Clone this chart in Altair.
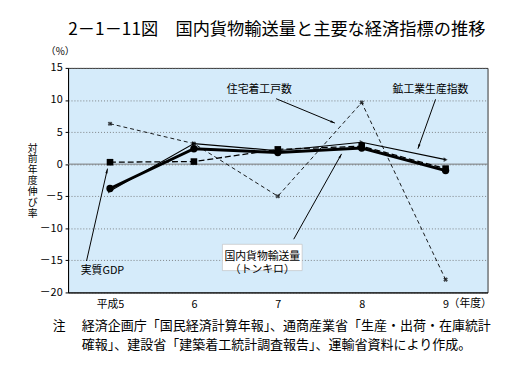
import math
import altair as alt
import pandas as pd

years = [5, 6, 7, 8, 9]
gdp = [0.3, 0.4, 2.3, 2.8, -0.7]
freight = [-3.8, 2.4, 1.8, 2.5, -1.0]
mining = [-4.2, 3.2, 2.1, 3.4, 0.7]
housing = [6.3, 3.2, -5.0, 9.6, -18.0]

y_ticks = [15, 10, 5, 0, -5, -10, -15, -20]

title_text = "2－1－11図　国内貨物輸送量と主要な経済指標の推移"
note_line1 = "経済企画庁「国民経済計算年報」、通商産業省「生産・出荷・在庫統計"
note_line2 = "確報」、建設省「建築着工統計調査報告」、運輸省資料により作成。"

# annotation labels (data coordinates)
lab_text = ["住宅着工戸数", "鉱工業生産指数", "実質GDP"]
lab_x = [6.78, 8.82, 4.91]
lab_y = [11.6, 11.6, -16.6]

# arrows (data coordinates)
arr_x1 = [6.98, 8.88, 7.19, 4.72]
arr_y1 = [10.2, 10.1, -11.7, -15.1]
arr_x2 = [7.68, 8.67, 7.76, 4.97]
arr_y2 = [6.4, 2.4, 1.6, -0.7]

W, H = 426, 228
XPX = W / 5.0
YPX = H / 35.0

FONT = "Noto Sans CJK JP"

xs = alt.Scale(domain=[4.5, 9.5], nice=False, zero=False)
ys = alt.Scale(domain=[-20, 15], nice=False, zero=False)

XAX = alt.Axis(values=years, grid=False, ticks=False, domain=True,
               domainColor="black", labelFont=FONT, labelFontSize=11,
               labelColor="black", labelPadding=6, title=None,
               labelOverlap=False, labelFlush=False,
               labelExpr="datum.value == 5 ? '平成5' : toString(datum.value)")
YAX = alt.Axis(values=y_ticks, tickCount=8, grid=True, gridColor="#666", gridDash=[1, 2],
               gridWidth=0.8, ticks=True, tickSize=3, tickColor="black",
               domain=True, domainColor="black", labelFont=FONT,
               labelFontSize=11, labelColor="black", labelPadding=3,
               labelOverlap=False, labelFlush=False, labelBound=False,
               title=None,
               labelExpr="datum.value < 0 ? '－' + toString(-datum.value) : toString(datum.value)")


def series_df(vals):
    return pd.DataFrame({"year": years, "value": vals})


def PX(f):
    return alt.X(f, scale=xs, axis=XAX)


def PY(f):
    return alt.Y(f, scale=ys, axis=YAX)


base_axes = alt.Chart(series_df(freight)).mark_point(opacity=0).encode(
    x=PX("year:Q"), y=PY("value:Q"))

zero = alt.Chart(pd.DataFrame({"value": [0]})).mark_rule(color="#777", strokeWidth=1).encode(
    y=PY("value:Q"))

housing_line = alt.Chart(series_df(housing)).mark_line(
    color="black", strokeWidth=0.9, strokeDash=[4, 3]).encode(x=PX("year:Q"), y=PY("value:Q"))
housing_pts = alt.Chart(series_df(housing)).mark_point(
    shape="cross", angle=45, size=22, filled=True, color="black").encode(x=PX("year:Q"), y=PY("value:Q"))

mining_line = alt.Chart(series_df(mining)).mark_line(
    color="black", strokeWidth=1.1).encode(x=PX("year:Q"), y=PY("value:Q"))
mining_pts = alt.Chart(series_df(mining)).mark_point(
    shape="triangle-right", size=22, filled=True, color="black").encode(x=PX("year:Q"), y=PY("value:Q"))

gdp_line = alt.Chart(series_df(gdp)).mark_line(
    color="black", strokeWidth=1.3, strokeDash=[6, 3]).encode(x=PX("year:Q"), y=PY("value:Q"))
gdp_pts = alt.Chart(series_df(gdp)).mark_point(
    shape="square", size=45, filled=True, color="black", opacity=1).encode(x=PX("year:Q"), y=PY("value:Q"))

freight_line = alt.Chart(series_df(freight)).mark_line(
    color="black", strokeWidth=3).encode(x=PX("year:Q"), y=PY("value:Q"))
freight_pts = alt.Chart(series_df(freight)).mark_point(
    shape="circle", size=55, filled=True, color="black", opacity=1).encode(x=PX("year:Q"), y=PY("value:Q"))

# arrows
angles = []
for a, b, c, d in zip(arr_x1, arr_y1, arr_x2, arr_y2):
    dxp = (c - a) * XPX
    dyp = -(d - b) * YPX
    angles.append(math.degrees(math.atan2(dxp, -dyp)) % 360)

arr_df = pd.DataFrame({"x1": arr_x1, "y1": arr_y1, "x2": arr_x2, "y2": arr_y2, "ang": angles})
arrows = alt.Chart(arr_df).mark_rule(color="black", strokeWidth=1).encode(
    x=PX("x1:Q"), y=PY("y1:Q"), x2="x2:Q", y2="y2:Q")
heads = alt.Chart(arr_df).mark_point(
    shape="M0,0L-0.35,1.5L0.35,1.5Z", size=40, filled=True, color="black", opacity=1).encode(
    x=PX("x2:Q"), y=PY("y2:Q"), angle=alt.Angle("ang:Q", scale=None))

labels = alt.Chart(pd.DataFrame({"t": lab_text, "x": lab_x, "y": lab_y})).mark_text(
    font=FONT, fontSize=11, color="black", baseline="middle").encode(
    x=PX("x:Q"), y=PY("y:Q"), text="t:N")

box = alt.Chart(pd.DataFrame({"x": [6.34], "x2": [7.29], "y": [-12.5], "y2": [-16.6]})).mark_rect(
    fill="white", stroke="#bbb", strokeWidth=0.6).encode(
    x=PX("x:Q"), x2="x2:Q", y=PY("y:Q"), y2="y2:Q")
box_text = alt.Chart(pd.DataFrame({"t": [["国内貨物輸送量", "（トンキロ）"]], "x": [6.815], "y": [-14.55]})).mark_text(
    font=FONT, fontSize=11, color="black", baseline="middle", lineHeight=13).encode(
    x=PX("x:Q"), y=PY("y:Q"), text="t")

nendo = alt.Chart(pd.DataFrame({"x": [9], "y": [-20], "t": ["（年度）"]})).mark_text(
    font=FONT, fontSize=11, color="black", align="left", baseline="top", dx=3, dy=6).encode(
    x=PX("x:Q"), y=PY("y:Q"), text="t:N")

one = pd.DataFrame({"a": [1]})
title = alt.Chart(one).mark_text(font=FONT, fontSize=17.5, color="black", baseline="middle").encode(
    x=alt.value(212), y=alt.value(-38), text=alt.value(title_text))
pct = alt.Chart(one).mark_text(font=FONT, fontSize=10, color="black", baseline="middle").encode(
    x=alt.value(-8), y=alt.value(-16), text=alt.value("（%）"))
ytitle = alt.Chart(one).mark_text(font=FONT, fontSize=10, color="black", baseline="top",
                                  lineHeight=11).encode(
    x=alt.value(-36), y=alt.value(77), text=alt.value(list("対前年度伸び率")))
note_head = alt.Chart(one).mark_text(font=FONT, fontSize=13, color="black", baseline="middle").encode(
    x=alt.value(-9), y=alt.value(262), text=alt.value("注"))
note1 = alt.Chart(one).mark_text(font=FONT, fontSize=13.2, color="black", baseline="middle", align="left").encode(
    x=alt.value(14), y=alt.value(262), text=alt.value(note_line1))
note2 = alt.Chart(one).mark_text(font=FONT, fontSize=13.2, color="black", baseline="middle", align="left").encode(
    x=alt.value(14), y=alt.value(281), text=alt.value(note_line2))

chart = alt.layer(
    base_axes, zero,
    housing_line, housing_pts, mining_line, mining_pts,
    gdp_line, gdp_pts, freight_line, freight_pts,
    box, box_text, arrows, heads, labels, nendo,
    title, pct, ytitle, note_head, note1, note2,
).properties(
    width=W, height=H,
    autosize=alt.AutoSizeParams(type="none"),
    padding={"left": 61, "top": 58, "right": 36, "bottom": 81},
    background="white",
).configure_view(fill="#d5ebfa", stroke="#333", strokeWidth=1)

chart.save("out.html", embed_options={"renderer": "svg", "actions": False})
